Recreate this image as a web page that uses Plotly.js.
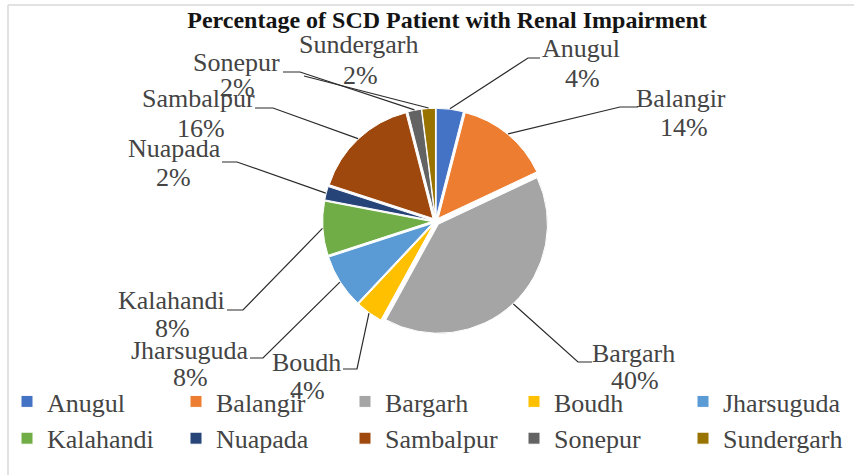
<!DOCTYPE html>
<html><head><meta charset="utf-8">
<script src="https://cdn.plot.ly/plotly-3.0.1.min.js"></script>
<style>html,body{margin:0;padding:0;background:#fff}#chart{width:854px;height:475px}</style>
</head><body><div id="chart"></div>
<script>
// ---- data ----
const districts = ["Anugul","Balangir","Bargarh","Boudh","Jharsuguda","Kalahandi","Nuapada","Sambalpur","Sonepur","Sundergarh"];
const percentages = [4,14,40,4,8,8,2,16,2,2];
const chartTitle = "Percentage of SCD Patient with Renal Impairment";

// ---- styles ----
const colors = ["#4472C4","#ED7D31","#A5A5A5","#FFC000","#5B9BD5","#70AD47","#264478","#9E480E","#636363","#997300"];
const FONT = "Liberation Serif";
const TXT = "#141414";
const W = 854, H = 475;
const CX = 435.7, CY = 221.3, HALF = 113, PULL = 0.036, EDGE = 113.5;

// label placement (pixels): name centre, percent centre, elbow, joint (null = none)
const labelLayout = {
  Anugul:     {name:[581,48],  pct:[582,78],  elbow:[528,58],  joint:[540,58]},
  Balangir:   {name:[681,98],  pct:[684,127], elbow:[620,107], joint:[638,107]},
  Bargarh:    {name:[633,353], pct:[635,380], elbow:[578,362], joint:[592,362]},
  Boudh:      {name:[306,362], pct:[307,390], elbow:[357,369], joint:[343,369]},
  Jharsuguda: {name:[189,350], pct:[190,377], elbow:[263,358], joint:[250,358]},
  Kalahandi:  {name:[171,300], pct:[172,328], elbow:[243,310], joint:[227,310]},
  Nuapada:    {name:[174,148], pct:[173,177], elbow:[237,162], joint:[222,162]},
  Sambalpur:  {name:[198,98],  pct:[201,128], elbow:[273,108], joint:[255,108]},
  Sonepur:    {name:[237,62],  pct:[238,88],  elbow:[300,72],  joint:[283,72]},
  Sundergarh: {name:[358,45],  pct:[360,75],  elbow:[304,76],  joint:null}
};

const px = x => x / W;
const py = y => 1 - y / H;

const total = percentages.reduce((a,b)=>a+b,0);
const annotations = [];
const shapes = [];
let cum = 0;
districts.forEach((d,i) => {
  const mid = (cum + percentages[i]/2) / total;
  cum += percentages[i];
  const th = 2*Math.PI*mid;
  const sx = CX + EDGE*Math.sin(th), sy = CY - EDGE*Math.cos(th);
  const L = labelLayout[d];
  let path = `M${px(sx)},${py(sy)} L${px(L.elbow[0])},${py(L.elbow[1])}`;
  if (L.joint) path += ` L${px(L.joint[0])},${py(L.joint[1])}`;
  shapes.push({type:'path', xref:'paper', yref:'paper', path, line:{color:'#2b2b2b', width:1.2}});
  annotations.push({xref:'paper', yref:'paper', x:px(L.name[0]), y:py(L.name[1]), text:d, showarrow:false,
    xanchor:'center', yanchor:'middle', font:{family:FONT, size:26}});
  annotations.push({xref:'paper', yref:'paper', x:px(L.pct[0]), y:py(L.pct[1]),
    text: Math.round(percentages[i]/total*100) + '%', showarrow:false,
    xanchor:'center', yanchor:'middle', font:{family:FONT, size:26}});
});

// frame
shapes.push({type:'line', xref:'paper', yref:'paper', x0:px(8), x1:px(8), y0:py(5), y1:py(H+2), line:{color:'#d9d9d9', width:1.5}});
shapes.push({type:'line', xref:'paper', yref:'paper', x0:px(8), x1:px(W+2), y0:py(5), y1:py(5), line:{color:'#d9d9d9', width:1.5}});

const trace = {
  type:'pie', labels:districts, values:percentages, sort:false, direction:'clockwise', rotation:0,
  marker:{colors:colors, line:{color:'#fff', width:1}},
  pull: districts.map(()=>PULL),
  textinfo:'none', hoverinfo:'label+percent',
  domain:{x:[px(CX-HALF), px(CX+HALF)], y:[py(CY+HALF), py(CY-HALF)]}
};

const layout = {
  width:W, height:H, margin:{l:0,r:0,t:0,b:0},
  paper_bgcolor:'#fff', plot_bgcolor:'#fff',
  title:{text:chartTitle, x:px(447), y:py(20), xanchor:'center', yanchor:'middle',
    font:{family:FONT, size:24, weight:'bold', color:TXT}},
  showlegend:true,
  legend:{orientation:'h', x:px(7), xanchor:'left', y:py(378), yanchor:'top',
    font:{family:FONT, size:26}, entrywidth:124, entrywidthmode:'pixels',
    itemwidth:30, traceorder:'normal', bgcolor:'rgba(0,0,0,0)'},
  annotations, shapes
};

Plotly.newPlot('chart', [trace], layout, {staticPlot:true, displayModeBar:false});
</script>
</body></html>
